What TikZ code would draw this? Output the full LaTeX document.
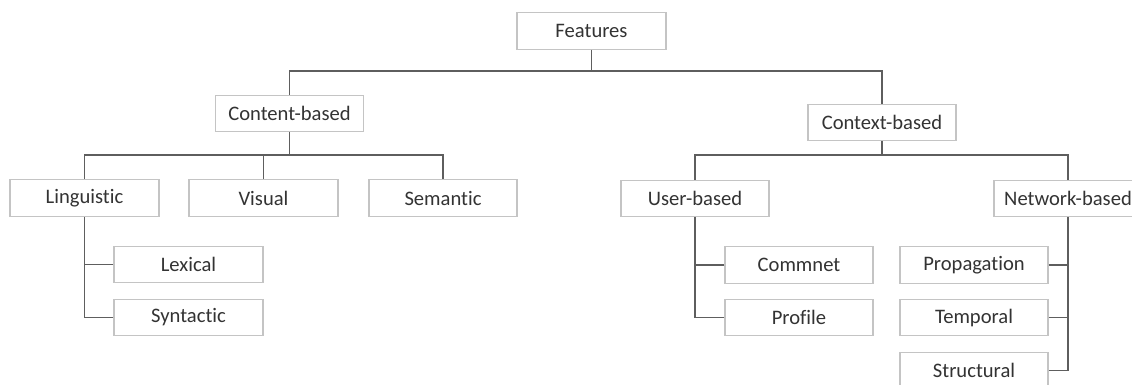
\documentclass[tikz,border=0pt]{standalone}
\usepackage{fontspec}
\setmainfont{Carlito}[Ligatures={NoCommon}]
\definecolor{boxline}{HTML}{C4C4C4}
\definecolor{conline}{HTML}{5E5E5E}
\definecolor{txt}{HTML}{333333}
\begin{document}
\begin{tikzpicture}[x=1pt,y=-1pt,
  box/.style={draw=boxline,line width=1.3pt,fill=white,minimum width=148pt,minimum height=36.5pt,
    inner sep=0pt,text=txt,font=\fontsize{20.6}{24}\selectfont},
  conn/.style={draw=conline,line width=1.8pt}]
\useasboundingbox (0,0) rectangle (1132,384);
\node[box,minimum width=149pt] (F) at (591.5,31) {Features};
\node[box] (Cont) at (289.5,113.5) {Content-based};
\node[box] (Ctx) at (882,122.5) {Context-based};
\node[box,minimum width=149pt] (Ling) at (84.5,198) {Linguistic};
\node[box,minimum width=149pt] (Vis) at (263.5,198) {Visual};
\node[box] (Sem) at (443,198) {Semantic};
\node[box] (User) at (695,198.5) {User-based};
\node[box] (Net) at (1068,198.5) {Network-based};
\node[box,minimum width=149pt] (Lex) at (188.5,264.5) {Lexical};
\node[box,minimum width=149pt] (Syn) at (188.5,317.5) {Syntactic};
\node[box] (Com) at (799,265) {Commnet};
\node[box] (Pro) at (799,317.5) {Profile};
\node[box] (Prop) at (974,265) {Propagation};
\node[box] (Tem) at (974,317.5) {Temporal};
\node[box] (Str) at (974,370.5) {Structural};
\coordinate (j1) at (591.5,71);
\coordinate (j2) at (289.5,155);
\coordinate (j3) at (882,155);
\draw[conn] (F.south) -- (j1);
\draw[conn] (Cont.north) |- (j1);
\draw[conn] (Ctx.north) |- (j1);
\draw[conn] (Cont.south) -- (j2);
\draw[conn] (Ling.north) |- (j2);
\draw[conn] (Vis.north) |- (j2);
\draw[conn] (Sem.north) |- (j2);
\draw[conn] (Ctx.south) -- (j3);
\draw[conn] (User.north) |- (j3);
\draw[conn] (Net.north) |- (j3);
\draw[conn] (Lex.west) -| (Ling.south);
\draw[conn] (Syn.west) -| (Ling.south);
\draw[conn] (Com.west) -| (User.south);
\draw[conn] (Pro.west) -| (User.south);
\draw[conn] (Prop.east) -| (Net.south);
\draw[conn] (Tem.east) -| (Net.south);
\draw[conn] (Str.east) -| (Net.south);
\end{tikzpicture}
\end{document}
